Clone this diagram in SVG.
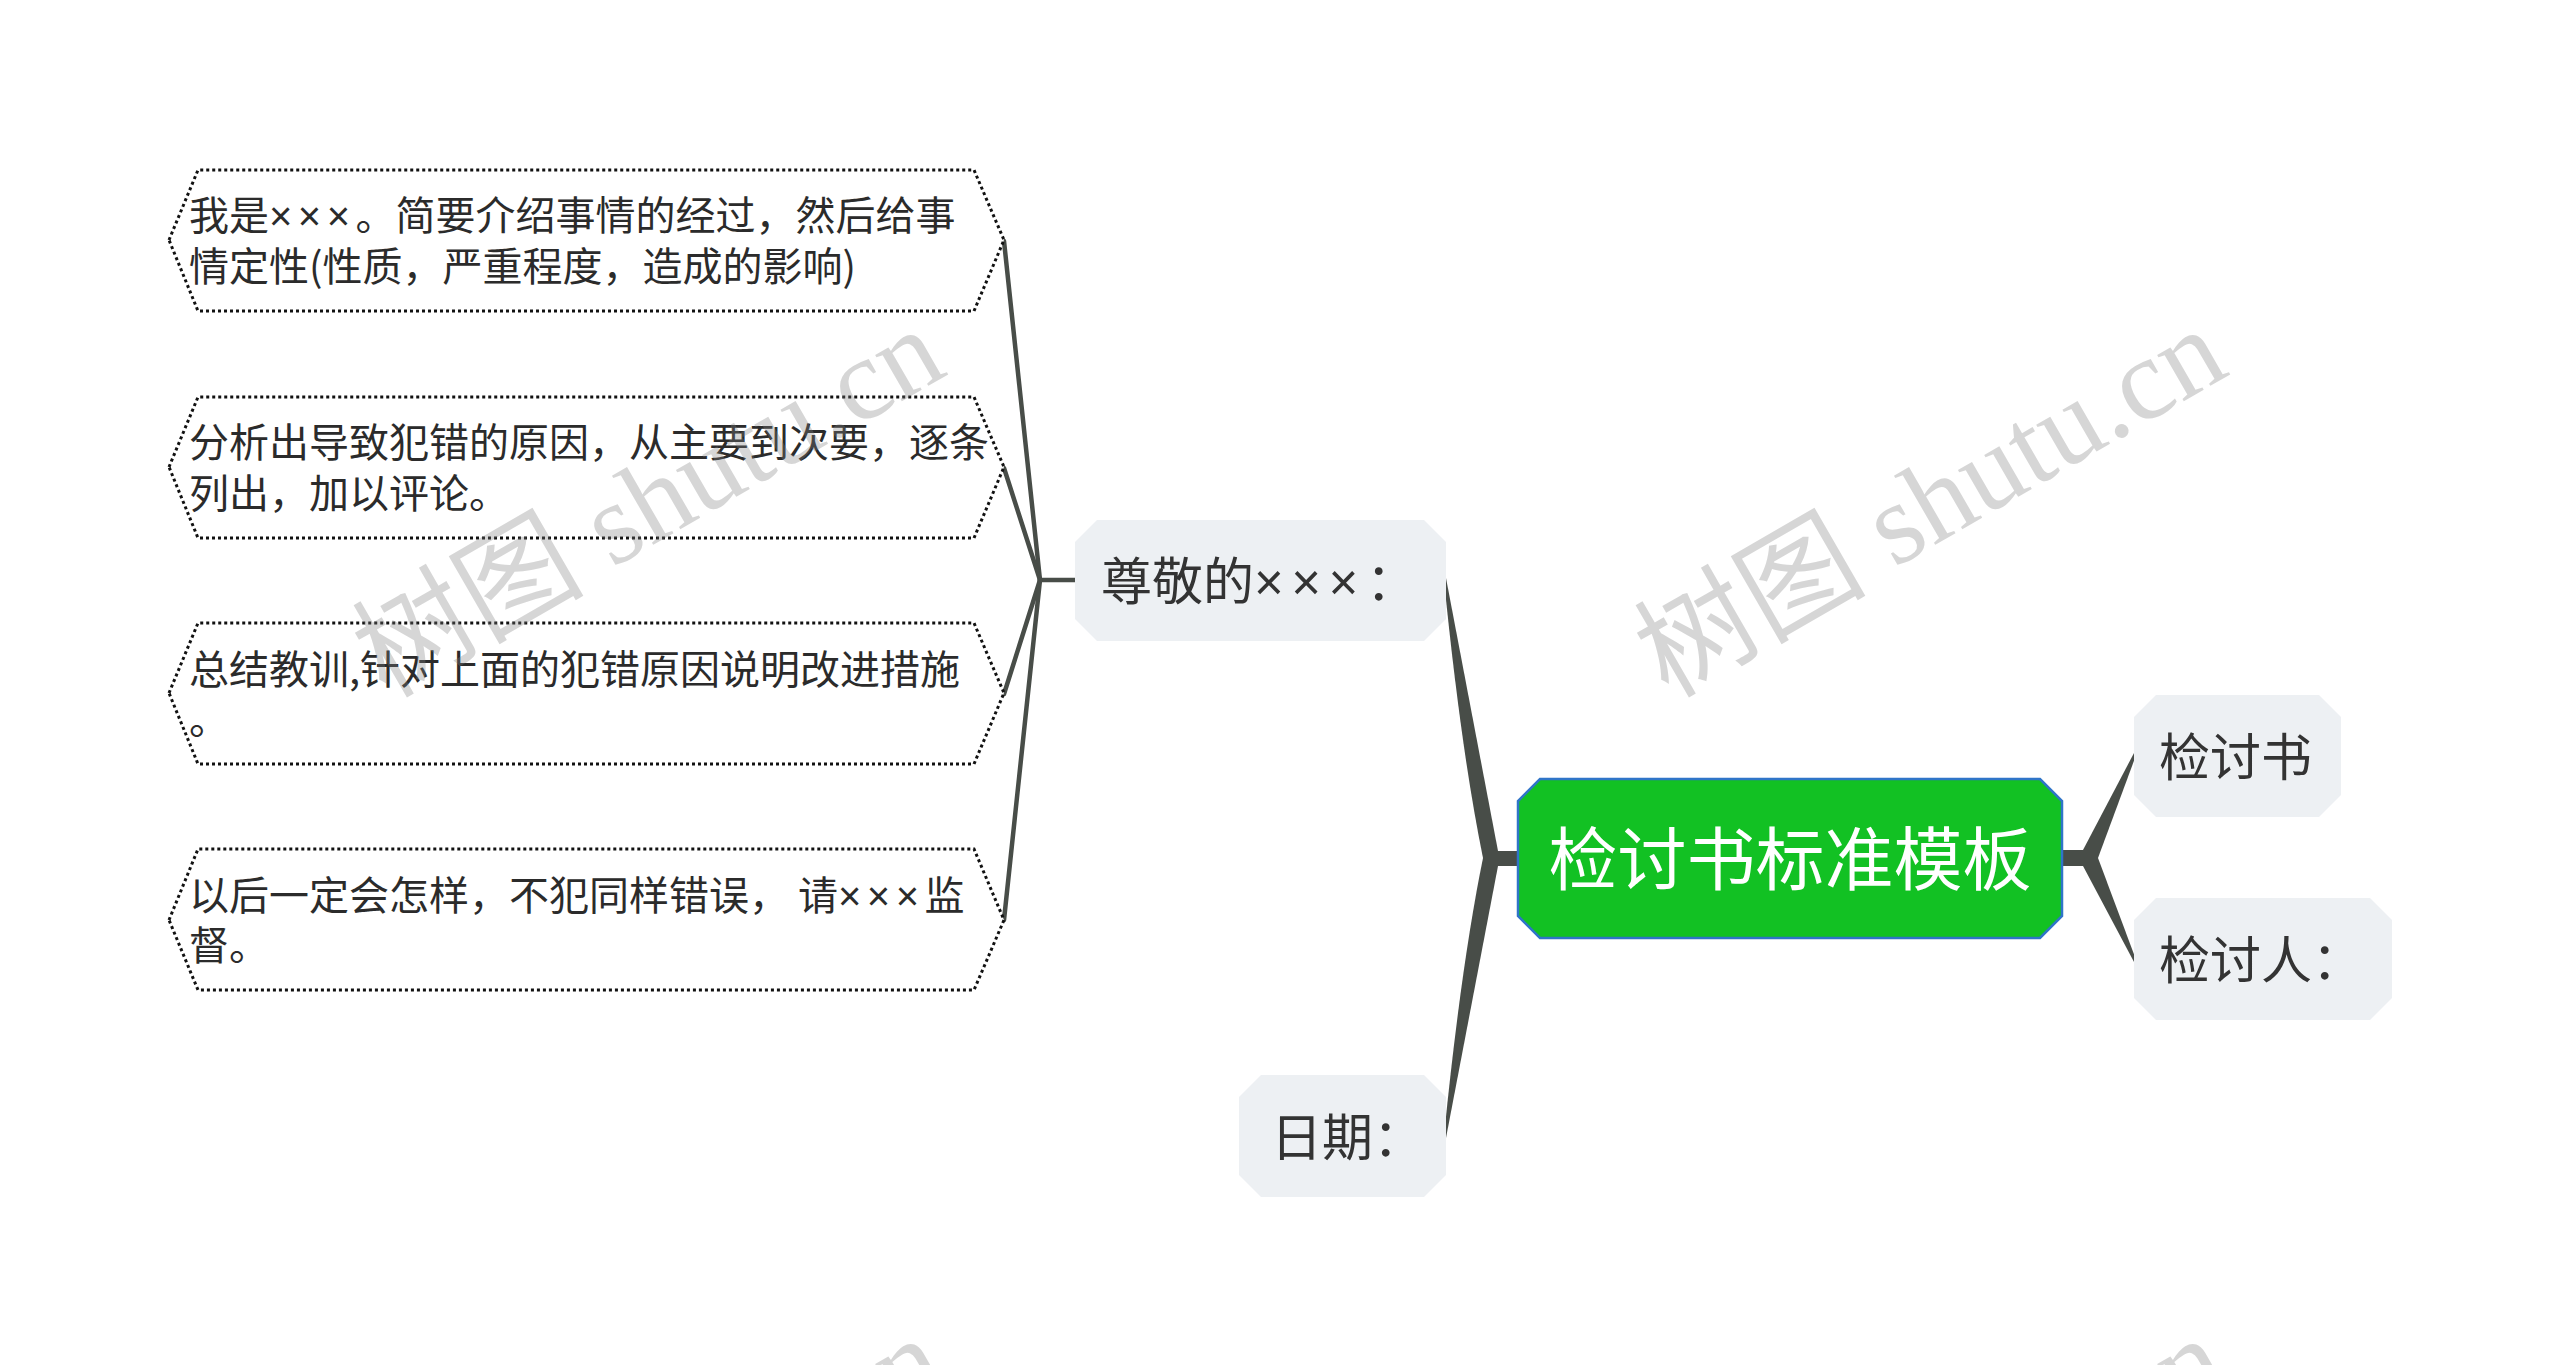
<svg xmlns="http://www.w3.org/2000/svg" width="2560" height="1365" viewBox="0 0 2560 1365">
<style>
.box{fill:#ffffff;stroke:#111111;stroke-width:3;stroke-dasharray:3 3}
.btxt{font-family:"Noto Sans CJK SC","Noto Sans",sans-serif;font-size:40px;fill:#2b2b2b}
.sub{fill:#edf0f3;stroke:none}
.stxt{font-family:"Noto Sans CJK SC","Noto Sans",sans-serif;font-size:51px;fill:#333333}
.x1{font-family:"Liberation Sans",sans-serif;letter-spacing:5.5px}
.x2{font-family:"Liberation Sans",sans-serif;letter-spacing:7.5px}
.root{fill:#12c123;stroke:#2f74c8;stroke-width:2.5}
.rtxt{font-family:"Noto Sans CJK SC","Noto Sans",sans-serif;font-size:69px;fill:#ffffff;text-anchor:middle}
.ln{stroke:#484d48;stroke-width:4.5;fill:none;stroke-linecap:round}
.br{fill:#484d48;stroke:none}
.wm{font-family:"Liberation Serif","Noto Sans CJK SC",serif;font-size:116px;fill:#808080;fill-opacity:0.32}
</style>
<rect x="0" y="0" width="2560" height="1365" fill="#ffffff"/>

<g id="connectors">
  <line class="ln" x1="1040" y1="580" x2="1075" y2="580"/>
  <line class="ln" x1="1040" y1="580" x2="1004" y2="241"/>
  <line class="ln" x1="1040" y1="580" x2="1004" y2="468"/>
  <line class="ln" x1="1040" y1="580" x2="1004" y2="694"/>
  <line class="ln" x1="1040" y1="580" x2="1004" y2="920"/>
  <rect class="br" x="1483" y="851" width="36" height="15"/>
  <path class="br" d="M1446 578 L1498 851 L1498 858 L1483 858 Q1461 750 1444 580 Z"/>
  <path class="br" d="M1446 1138 L1498 866 L1498 858 L1483 858 Q1461 966 1444 1136 Z"/>
  <rect class="br" x="2060" y="850" width="23" height="16"/>
  <path class="br" d="M2083 850 L2134 753 L2135 758 L2098 858 L2083 858 Z"/>
  <path class="br" d="M2083 866 L2134 962 L2135 957 L2098 858 L2083 858 Z"/>
</g>

<g id="box1">
  <polygon class="box" points="169,240 198,170 974,170 1004,240 974,311 198,311"/>
  <text class="btxt" x="189" y="230">我是<tspan class="x1">×××</tspan>。简要介绍事情的经过，然后给事</text>
  <text class="btxt" x="189" y="281">情定性(性质，严重程度，造成的影响)</text>
</g>
<g id="box2">
  <polygon class="box" points="169,467 198,397 974,397 1004,467 974,538 198,538"/>
  <text class="btxt" x="189" y="457">分析出导致犯错的原因，从主要到次要，逐条</text>
  <text class="btxt" x="189" y="508">列出，加以评论。</text>
</g>
<g id="box3">
  <polygon class="box" points="169,693 198,623 974,623 1004,693 974,764 198,764"/>
  <text class="btxt" x="189" y="684">总结教训,针对上面的犯错原因说明改进措施</text>
  <text class="btxt" x="189" y="734">。</text>
</g>
<g id="box4">
  <polygon class="box" points="169,920 198,849 974,849 1004,920 974,990 198,990"/>
  <text class="btxt" x="189" y="910">以后一定会怎样，不犯同样错误， 请<tspan class="x1">×××</tspan>监</text>
  <text class="btxt" x="189" y="960">督。</text>
</g>

<g id="node-zunjing">
  <polygon class="sub" points="1097,520 1424,520 1446,542 1446,619 1424,641 1097,641 1075,619 1075,542"/>
  <text class="stxt" x="1101" y="600">尊敬的<tspan class="x2">×××</tspan>：</text>
</g>
<g id="node-riqi">
  <polygon class="sub" points="1261,1075 1424,1075 1446,1097 1446,1175 1424,1197 1261,1197 1239,1175 1239,1097"/>
  <text class="stxt" x="1271" y="1156">日期：</text>
</g>
<g id="root">
  <polygon class="root" points="1540,779 2040,779 2062,801 2062,916 2040,938 1540,938 1518,916 1518,801"/>
  <text class="rtxt" x="1790" y="885">检讨书标准模板</text>
</g>
<g id="node-jiantaoshu">
  <polygon class="sub" points="2156,695 2319,695 2341,717 2341,795 2319,817 2156,817 2134,795 2134,717"/>
  <text class="stxt" x="2159" y="776">检讨书</text>
</g>
<g id="node-jiantaoren">
  <polygon class="sub" points="2156,898 2370,898 2392,920 2392,998 2370,1020 2156,1020 2134,998 2134,920"/>
  <text class="stxt" x="2159" y="979">检讨人：</text>
</g>

<g id="watermarks">
  <text class="wm" transform="translate(386,699) rotate(-30)">树图 shutu.cn</text>
  <text class="wm" transform="translate(1668,699) rotate(-30)">树图 shutu.cn</text>
  <text class="wm" transform="translate(386,1708) rotate(-30)">树图 shutu.cn</text>
  <text class="wm" transform="translate(1668,1708) rotate(-30)">树图 shutu.cn</text>
</g>
</svg>
